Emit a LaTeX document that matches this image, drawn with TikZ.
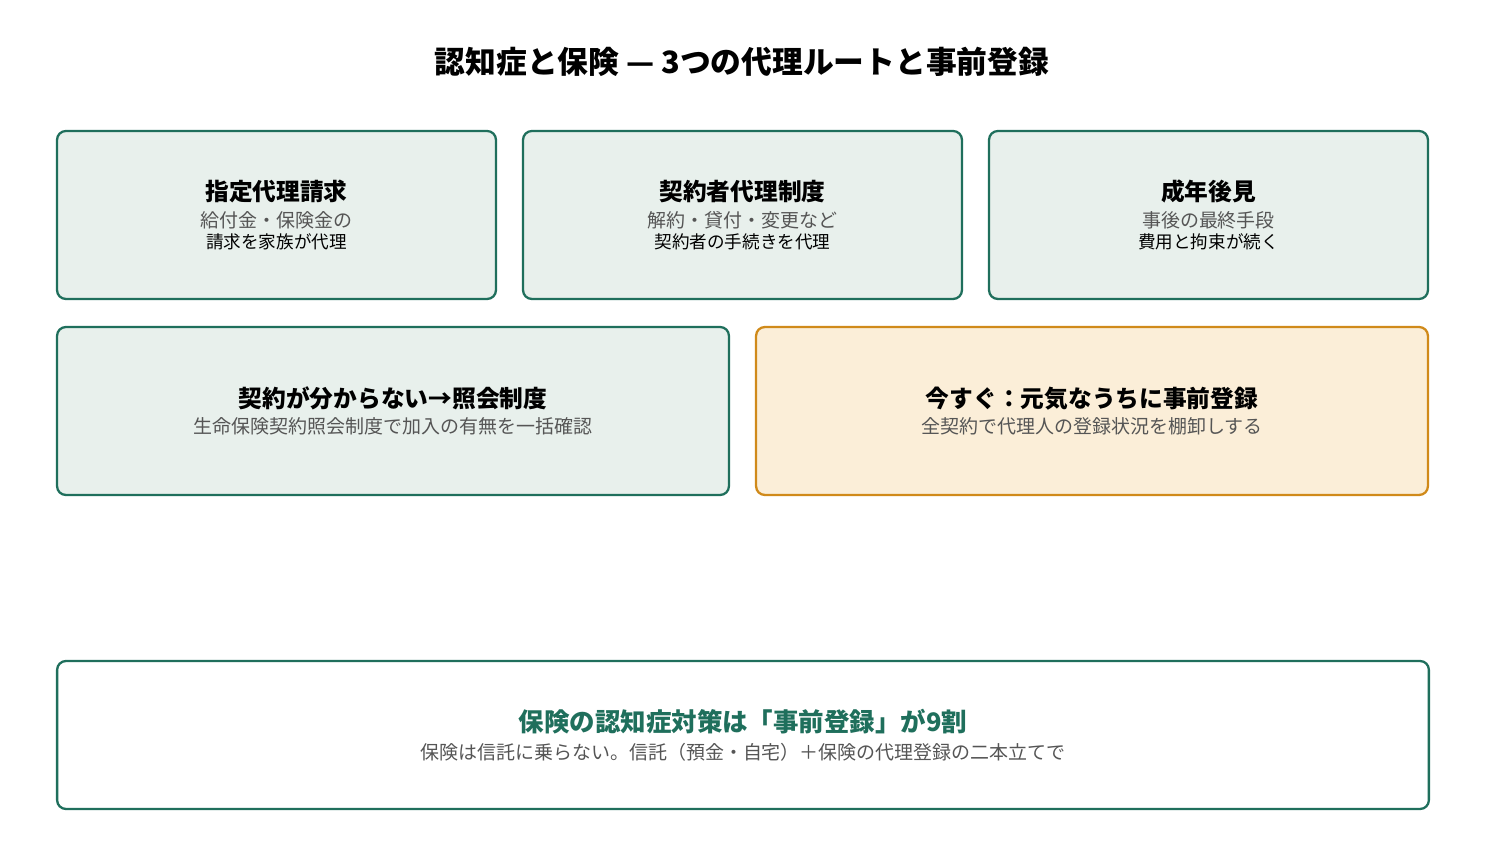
\documentclass[tikz,border=0pt]{standalone}
\usepackage{fontspec}
\setmainfont{Noto Sans CJK JP}
\usetikzlibrary{positioning}
\definecolor{routecolor}{HTML}{1F6F5C}
\definecolor{routefill}{HTML}{E8F0EC}
\definecolor{nowcolor}{HTML}{D08A1A}
\definecolor{nowfill}{HTML}{FBEED8}
\definecolor{subcolor}{HTML}{555555}
\tikzset{
    route/.style={rectangle, rounded corners=5pt, line width=1.3pt,
        draw=routecolor, fill=routefill, align=center, inner sep=0pt,
        minimum width=8.78cm, minimum height=3.36cm},
    wide/.style={route, minimum width=13.44cm},
    now/.style={wide, draw=nowcolor, fill=nowfill},
    summary/.style={route, fill=white, minimum width=27.44cm, minimum height=2.96cm},
}
\newcommand{\boxtext}[2]{\fontsize{13.5}{17}\selectfont\bfseries #1\\[3pt]%
    \fontsize{10.8}{14.2}\selectfont\mdseries\color{subcolor}#2}

\begin{document}
\begin{tikzpicture}[x=0.02cm,y=-0.02cm]
\useasboundingbox (0,0) rectangle (1485,854);

\node (title) [font=\fontsize{17.5}{21}\selectfont\bfseries] at (742,62) {認知症と保険 — 3つの代理ルートと事前登録};

\node (designated) [route] at (276.5,215) {\boxtext{指定代理請求}{給付金・保険金の\\請求を家族が代理}};
\node (contractor) [route] at (742.5,215) {\boxtext{契約者代理制度}{解約・貸付・変更など\\契約者の手続きを代理}};
\node (guardian) [route] at (1208.5,215) {\boxtext{成年後見}{事後の最終手段\\費用と拘束が続く}};

\node (inquiry) [wide] at (393,411) {\boxtext{契約が分からない→照会制度}{生命保険契約照会制度で加入の有無を一括確認}};
\node (register) [now] at (1092,411) {\boxtext{今すぐ：元気なうちに事前登録}{全契約で代理人の登録状況を棚卸しする}};

\node (summary) [summary] at (743,735) {\fontsize{14.5}{18}\selectfont\bfseries\color{routecolor}保険の認知症対策は「事前登録」が9割\\[4pt]%
    \fontsize{10.8}{14}\selectfont\mdseries\color{subcolor}保険は信託に乗らない。信託（預金・自宅）＋保険の代理登録の二本立てで};

\end{tikzpicture}
\end{document}
